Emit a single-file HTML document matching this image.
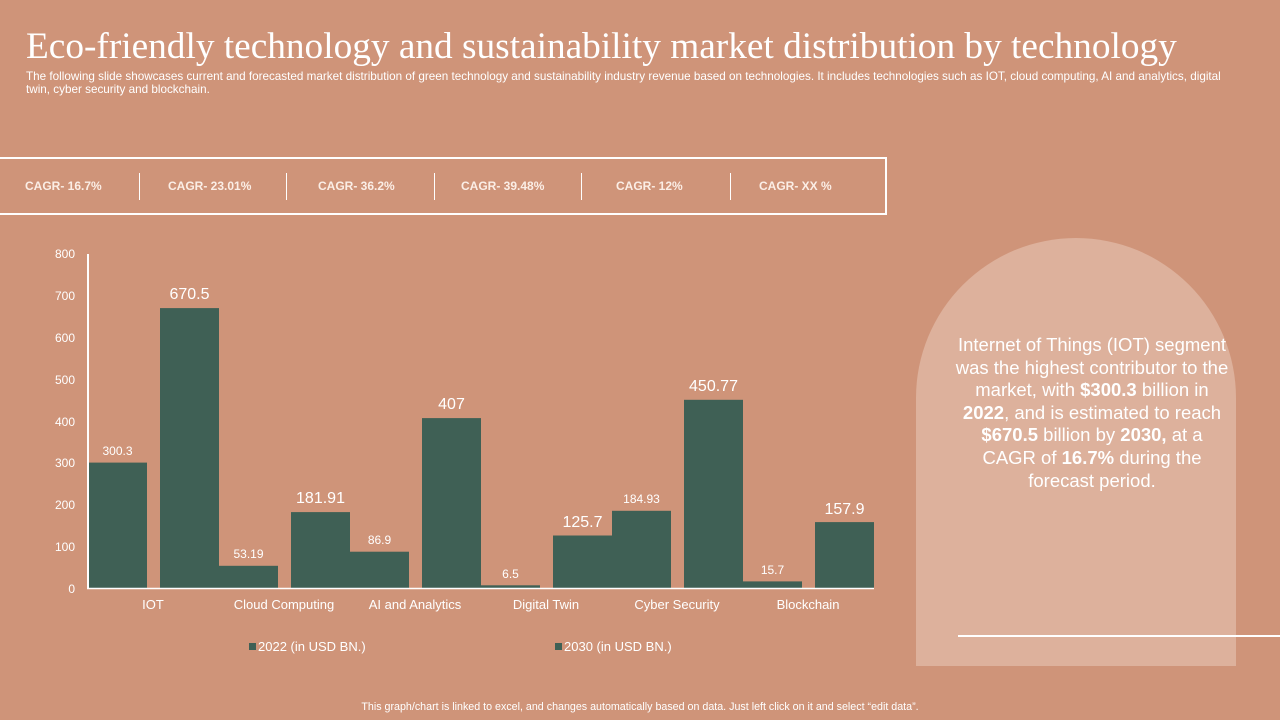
<!DOCTYPE html>
<html><head><meta charset="utf-8"><style>
body{margin:0;width:1280px;height:720px;background:#CF9479;overflow:hidden;position:relative;font-family:"Liberation Sans",sans-serif;color:#fff}
h1{position:absolute;left:26px;top:25px;margin:0;font-family:"Liberation Serif",serif;font-weight:normal;font-size:37.3px;color:#fff;white-space:nowrap}
.sub{position:absolute;left:26px;top:71px;width:1205px;font-size:11.7px;line-height:12.5px}
.box{position:absolute;left:-4px;top:157px;width:887px;height:54px;border:2px solid #fff}
.c{position:absolute;top:179px;font-size:12px;font-weight:bold;color:#fbeee6}
.sep{position:absolute;top:173px;width:1px;height:27px;background:#fff}
.arch{position:absolute;left:916px;top:238px;width:320px;height:428px;background:#DDB19C;border-radius:160px 160px 0 0}
.txt{position:absolute;left:954px;top:334px;width:276px;text-align:center;font-size:18.5px;line-height:22.6px}
.line{position:absolute;left:958px;top:635px;width:322px;height:2px;background:#fff}
.foot{position:absolute;left:0;width:1280px;top:701px;text-align:center;font-size:10.7px}
</style></head><body>
<h1>Eco-friendly technology and sustainability market distribution by technology</h1>
<div class="sub">The following slide showcases current and forecasted market distribution of green technology and sustainability industry revenue based on technologies. It includes technologies such as IOT, cloud computing, AI and analytics, digital twin, cyber security and blockchain.</div>
<div class="box"></div>
<div class="c" style="left:25px">CAGR- 16.7%</div>
<div class="sep" style="left:139px"></div>
<div class="c" style="left:168px">CAGR- 23.01%</div>
<div class="sep" style="left:286px"></div>
<div class="c" style="left:318px">CAGR- 36.2%</div>
<div class="sep" style="left:434px"></div>
<div class="c" style="left:461px">CAGR- 39.48%</div>
<div class="sep" style="left:581px"></div>
<div class="c" style="left:616px">CAGR- 12%</div>
<div class="sep" style="left:730px"></div>
<div class="c" style="left:759px">CAGR- XX %</div>
<svg width="1280" height="720" style="position:absolute;left:0;top:0" font-family="Liberation Sans, sans-serif">
<g fill="#fff" font-size="12" text-anchor="end">
<text x="75" y="258">800</text><text x="75" y="300">700</text><text x="75" y="342">600</text><text x="75" y="384">500</text><text x="75" y="426">400</text><text x="75" y="467">300</text><text x="75" y="509">200</text><text x="75" y="551">100</text><text x="75" y="593">0</text>
</g>
<g fill="#3F6055">
<rect x="88" y="462.6" width="59" height="125.4"/><rect x="160" y="308.1" width="59" height="279.9"/>
<rect x="219" y="565.8" width="59" height="22.2"/><rect x="291" y="512.1" width="59" height="75.9"/>
<rect x="350" y="551.7" width="59" height="36.3"/><rect x="422" y="418.1" width="59" height="169.9"/>
<rect x="481" y="585.3" width="59" height="2.7"/><rect x="553" y="535.5" width="59" height="52.5"/>
<rect x="612" y="510.8" width="59" height="77.2"/><rect x="684" y="399.8" width="59" height="188.2"/>
<rect x="743" y="581.4" width="59" height="6.6"/><rect x="815" y="522.1" width="59" height="65.9"/>
</g>
<line x1="88" y1="254" x2="88" y2="589" stroke="#fff" stroke-width="2"/>
<line x1="87" y1="588.5" x2="874" y2="588.5" stroke="#fff" stroke-width="1.5"/>
<g fill="#fff" font-size="12" text-anchor="middle">
<text x="117.5" y="455">300.3</text><text x="248.5" y="558">53.19</text><text x="379.5" y="544">86.9</text><text x="510.5" y="578">6.5</text><text x="641.5" y="503">184.93</text><text x="772.5" y="574">15.7</text>
</g>
<g fill="#fff" font-size="16" text-anchor="middle">
<text x="189.5" y="299">670.5</text><text x="320.5" y="503">181.91</text><text x="451.5" y="409">407</text><text x="582.5" y="527">125.7</text><text x="713.5" y="391">450.77</text><text x="844.5" y="514">157.9</text>
</g>
<g fill="#fff" font-size="13" text-anchor="middle">
<text x="153" y="609">IOT</text><text x="284" y="609">Cloud Computing</text><text x="415" y="609">AI and Analytics</text><text x="546" y="609">Digital Twin</text><text x="677" y="609">Cyber Security</text><text x="808" y="609">Blockchain</text>
</g>
<rect x="249" y="643" width="7" height="7" fill="#3F6055"/><text x="258" y="651" fill="#fff" font-size="13">2022 (in USD BN.)</text>
<rect x="555" y="643" width="7" height="7" fill="#3F6055"/><text x="564" y="651" fill="#fff" font-size="13">2030 (in USD BN.)</text>
</svg>
<div class="arch"></div>
<div class="txt">Internet of Things (IOT) segment was the highest contributor to the market, with <b>$300.3</b> billion in <b>2022</b>, and is estimated to reach <b>$670.5</b> billion by <b>2030,</b> at a CAGR of <b>16.7%</b> during the forecast period.</div>
<div class="line"></div>
<div class="foot">This graph/chart is linked to excel, and changes automatically based on data. Just left click on it and select “edit data”.</div>
</body></html>
